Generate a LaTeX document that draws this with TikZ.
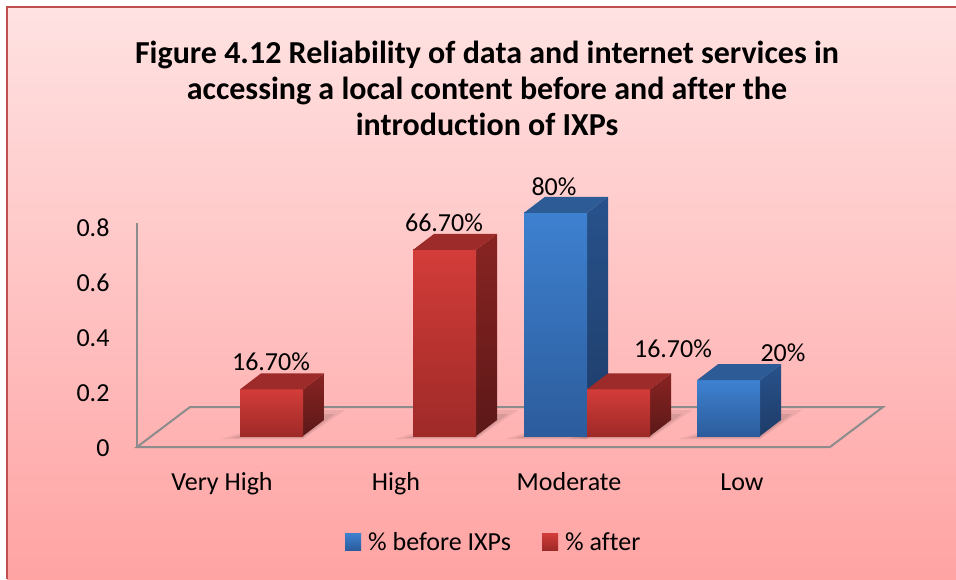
\documentclass[tikz,border=0pt]{standalone}
\usepackage{fontspec}
\setmainfont[Ligatures={NoCommon}]{Carlito}
\usepackage{tikz}
\definecolor{bgtop}{RGB}{255, 226, 226}
\definecolor{bgbot}{RGB}{255, 163, 163}
\definecolor{frame}{RGB}{192, 80, 77}
\definecolor{grid}{RGB}{140, 140, 140}
\definecolor{bluefront}{RGB}{62, 129, 208}
\definecolor{bluefrontdk}{RGB}{44, 92, 156}
\definecolor{blueside}{RGB}{40, 82, 140}
\definecolor{bluesidedk}{RGB}{30, 60, 104}
\definecolor{bluetop}{RGB}{44, 91, 150}
\definecolor{redfront}{RGB}{211, 60, 57}
\definecolor{redfrontdk}{RGB}{158, 42, 40}
\definecolor{redside}{RGB}{136, 36, 34}
\definecolor{redsidedk}{RGB}{92, 24, 24}
\definecolor{redtop}{RGB}{156, 43, 41}

\begin{document}
\begin{tikzpicture}[x=1pt, y=-1pt, font=\fontsize{26}{30}\selectfont]
  \useasboundingbox (0,0) rectangle (956,579);

  % Background
  \fill[white] (0,0) rectangle (956,579);
  \shade[top color=bgtop, bottom color=bgbot] (7,7) rectangle (956,579);
  \draw[frame, line width=2.5] (7,579) -- (7,7) -- (956,7);

  % Title
  \node[font=\fontsize{32}{36}\selectfont\bfseries, align=center] (title) at (487,88)
    {Figure 4.12 Reliability of data and internet services in\\
     accessing a local content before and after the\\
     introduction of IXPs};

  % Floor and axis
  \draw[grid, line width=2] (137,447) -- (190,407) -- (883,407) -- (830,447) -- cycle;
  \draw[grid, line width=2] (137,223) -- (137,447);
  \foreach \v [count=\i] in {0, 0.2, 0.4, 0.6, 0.8} {
    \node[anchor=base east] (tick\i) at (113, {456-274*\v}) {\v};
  }

  % Shadows
  \foreach \xl/\v in {240/0.167, 413/0.667, 524/0.8, 587/0.167, 697/0.2} {
    \pgfmathsetmacro{\xr}{\xl+63}
    \fill[black, opacity=0.07] (\xl-18,439) -- (\xr,439) -- (\xr+42,410) -- (\xr+12,410) -- cycle;
    \fill[black, opacity=0.09] (\xl-8,438) -- (\xr,438) -- (\xr+32,414) -- (\xr+12,414) -- cycle;
  }

  % Bars
  \foreach \xl/\v/\col in {240/0.167/red, 413/0.667/red, 524/0.8/blue, 587/0.167/red, 697/0.2/blue} {
    \pgfmathsetmacro{\xr}{\xl+63}
    \pgfmathsetmacro{\yt}{436-279*\v}
    \shade[top color=\col side, bottom color=\col sidedk]
      (\xr,436) -- (\xr,\yt) -- (\xr+21,\yt-16) -- (\xr+21,420) -- cycle;
    \shade[top color=\col front, bottom color=\col frontdk] (\xl,\yt) rectangle (\xr,436);
    \fill[\col top] (\xl,\yt) -- (\xr,\yt) -- (\xr+21,\yt-16) -- (\xl+21,\yt-16) -- cycle;
  }

  % Data labels
  \node[anchor=base] (lblvhigh) at (271,370) {16.70\%};
  \node[anchor=base] (lblhigh) at (444,231) {66.70\%};
  \node[anchor=base] (lblmodb) at (554,195) {80\%};
  \node[anchor=base] (lblmodr) at (673,357) {16.70\%};
  \node[anchor=base] (lbllow) at (783,361) {20\%};

  % Categories
  \node[anchor=base] (catvhigh) at (222,490) {Very High};
  \node[anchor=base] (cathigh) at (396,490) {High};
  \node[anchor=base] (catmod) at (569,490) {Moderate};
  \node[anchor=base] (catlow) at (742,490) {Low};

  % Legend
  \shade[top color=bluefront, bottom color=bluefrontdk] (345,533) rectangle (361,550);
  \node[anchor=base west, inner sep=0] (legbefore) at (368,550) {\% before IXPs};
  \shade[top color=redfront, bottom color=redfrontdk] (542,533) rectangle (558,550);
  \node[anchor=base west, inner sep=0] (legafter) at (565,550) {\% after};
\end{tikzpicture}
\end{document}
